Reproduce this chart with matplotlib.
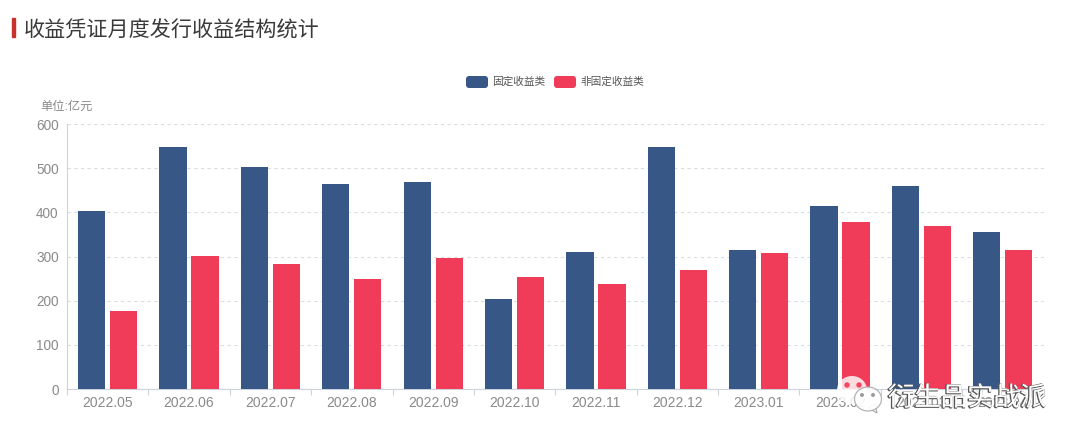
import matplotlib
matplotlib.use("Agg")
import matplotlib.pyplot as plt
import matplotlib.patheffects as pe
import numpy as np
from matplotlib.patches import Ellipse, FancyBboxPatch, Polygon, Rectangle
from matplotlib.transforms import IdentityTransform

plt.rcParams["font.family"] = ["Liberation Sans", "Noto Sans CJK SC", "DejaVu Sans"]

months = ["2022.05", "2022.06", "2022.07", "2022.08", "2022.09", "2022.10",
          "2022.11", "2022.12", "2023.01", "2023.02", "2023.03", "2023.04"]
fixed_income = [403, 548, 503, 465, 469, 203, 311, 549, 315, 414, 460, 356]
non_fixed_income = [177, 301, 283, 250, 296, 253, 238, 269, 307, 379, 370, 315]
y_ticks = [0, 100, 200, 300, 400, 500, 600]

W, H = 1080, 444
BLUE = "#375787"
RED = "#f13c59"
GREY = "#8a8a8a"

fig = plt.figure(figsize=(W / 100, H / 100), dpi=100)
px = IdentityTransform()


# 画像と同じ左上原点のピクセル座標を変換
def Y(y):
    return H - y


ax = fig.add_axes([67 / W, (H - 389) / H, (1043.5 - 67) / W, (389 - 124) / H])

x = np.arange(len(months))
bar_w = 0.335
offset = 0.197
ax.bar(x - offset, fixed_income, bar_w, color=BLUE, zorder=3)
ax.bar(x + offset, non_fixed_income, bar_w, color=RED, zorder=3)

ax.set_xlim(-0.5, len(months) - 0.5)
ax.set_ylim(0, 600)
ax.set_yticks(y_ticks)
ax.set_xticks(x)
ax.set_xticklabels(months)
ax.set_xticks(np.arange(len(months) + 1) - 0.5, minor=True)
ax.tick_params(axis="x", which="major", length=0, pad=5, labelsize=10, labelcolor=GREY)
ax.tick_params(axis="x", which="minor", length=4, width=0.8, color="#cdd3dc")
ax.tick_params(axis="y", length=0, pad=6, labelsize=9.8, labelcolor=GREY)
ax.grid(axis="y", color="#d9dde2", linestyle=(0, (3, 3)), linewidth=0.8, zorder=0)
for side in ["top", "right"]:
    ax.spines[side].set_visible(False)
for side in ["left", "bottom"]:
    ax.spines[side].set_color("#cdd3dc")
    ax.spines[side].set_linewidth(0.8)

# タイトル
fig.add_artist(Rectangle((12, Y(37)), 3, 19, transform=px, color="#c8322a"))
fig.text(24 / W, Y(31) / H, "收益凭证月度发行收益结构统计", fontsize=15.2, color="#3a3a3a",
         va="center", ha="left", family=["Noto Sans CJK SC"])
fig.text(40 / W, Y(106.5) / H, "单位:亿元", fontsize=8.8, color=GREY, va="center", ha="left")

# 凡例
for x0, color, label in [(466, BLUE, "固定收益类"), (554, RED, "非固定收益类")]:
    fig.add_artist(FancyBboxPatch((x0 + 3, Y(88) + 3), 16, 6, boxstyle="round,pad=3",
                                  transform=px, facecolor=color, edgecolor="none"))
    fig.text((x0 + 26) / W, Y(82) / H, label, fontsize=7.7, color="#555555",
             va="center", ha="left")

# 透かし(WeChat アイコンと文字)
fig.add_artist(Ellipse((852, Y(390)), 30, 28, transform=px, facecolor="white",
                       edgecolor="none", alpha=0.82, zorder=5))
for ex in [847, 859]:
    fig.add_artist(Ellipse((ex, Y(385)), 4, 4, transform=px, color=RED, alpha=0.9, zorder=6))
fig.add_artist(Polygon([[868, Y(408)], [877, Y(413)], [875, Y(404)]], transform=px,
                       facecolor="white", edgecolor="#aaaaaa", linewidth=0.8, zorder=6))
fig.add_artist(Ellipse((868, Y(399)), 27, 24, transform=px, facecolor="white",
                       edgecolor="#aaaaaa", linewidth=0.9, alpha=0.9, zorder=7))
for ex in [862, 873]:
    fig.add_artist(Ellipse((ex, Y(395)), 2.5, 2.5, transform=px, color="#999999", zorder=8))
mark = fig.text(888 / W, Y(398) / H, "衍生品实战派", fontsize=19, color="white", va="center",
                ha="left", family=["Noto Sans CJK SC"], zorder=9)
mark.set_path_effects([
    pe.Stroke(linewidth=1.0, foreground="#555555", offset=(-0.6, -0.3)),
    pe.Normal(),
])

fig.savefig("out.png", dpi=100)
